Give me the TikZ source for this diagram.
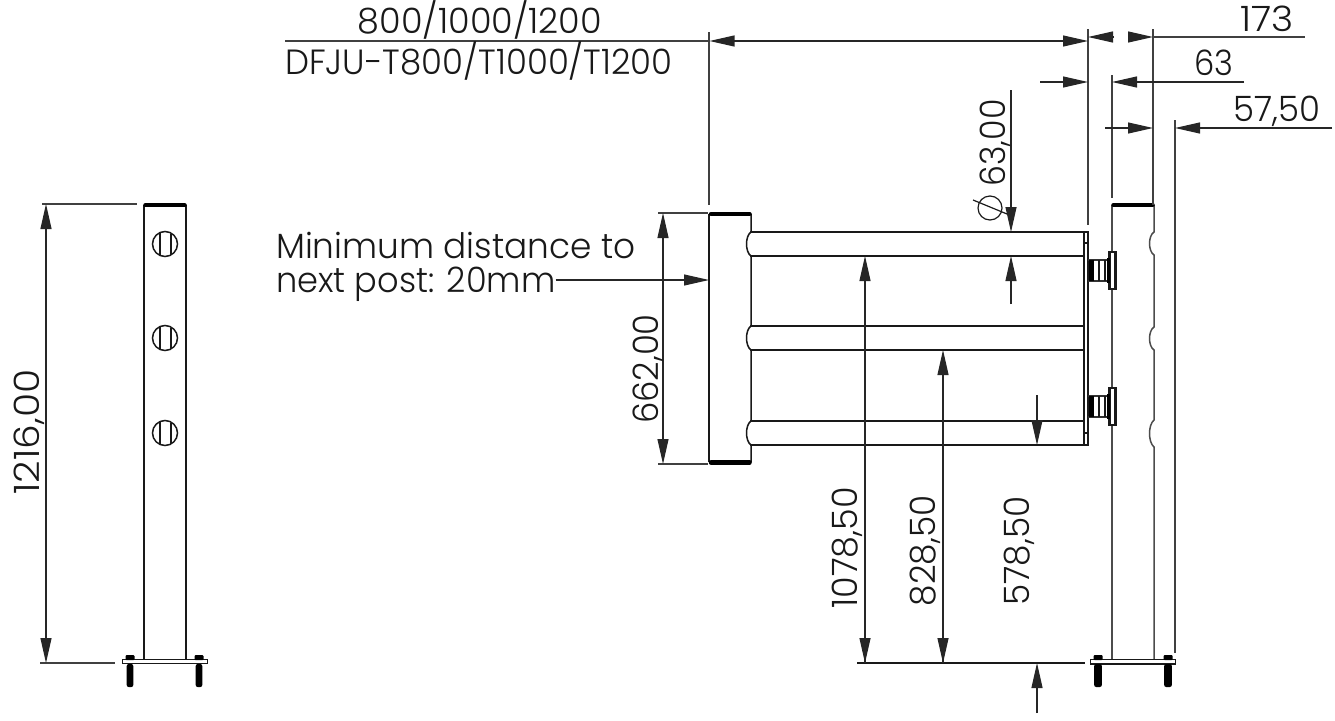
\documentclass[tikz,border=0pt]{standalone}
\usepackage{fontspec}
\setmainfont{Poppins}[UprightFont=* Light]
\usetikzlibrary{arrows.meta}
\tikzset{
  part/.style={line width=1.5pt,black!90},
  heavy/.style={line width=4.5pt,black,line cap=round},
  dim/.style={line width=1.1pt,black!85,-{Triangle[length=25pt,width=11pt]}},
  ext/.style={line width=1.1pt,black!75},
  lbl/.style={font=\fontsize{35}{38}\selectfont,inner sep=0pt,text=black!90},
  lblr/.style={lbl,rotate=90}
}
\newcommand{\sx}[2]{\scalebox{#1}[1]{#2}}
\newcommand{\bolt}[2]{%
  \fill[black,rounded corners=1pt] (#1-4.5,655) rectangle (#1+4.5,660);
  \fill[black,rounded corners=2pt] (#1-#2,664) rectangle (#1+#2,687);
}
\newcommand{\holemark}[1]{%
  \draw[part] (165,#1) circle (12.5);
  \draw[part] (160,#1-11.5) -- (160,#1+11.5);
  \draw[part] (171,#1-10.5) -- (171,#1+10.5);
}
\newcommand{\hingeunit}[2]{%
  \draw[part,fill=white,line width=2.2pt] (1109.5,#1) rectangle (1115.5,#1+37);
  \draw[part,line width=1.6pt,black!80] (1088,#2) -- (1109,#2) (1088,#2+21) -- (1109,#2+21);
  \fill[black] (1089,#2) rectangle (1094,#2+21);
  \fill[black] (1107,#2-2) rectangle (1110,#2+23);
  \draw[part] (1099,#2) -- (1099,#2+21) (1105,#2) -- (1105,#2+21);
}
\begin{document}
\begin{tikzpicture}[x=1pt,y=-1pt]
\useasboundingbox (0,0) rectangle (1335,720);
\fill[white] (0,0) rectangle (1335,720);

% left post
\draw[part] (144,205) -- (144,659) (186,205) -- (186,659);
\draw[heavy] (145.5,205) -- (184.5,205);
\holemark{244}\holemark{338}\holemark{433}
\draw[part,line width=1.8pt,fill=white] (122.5,659.5) rectangle (207.5,663.5);
\bolt{130}{3.3}\bolt{199}{3.3}
% left dimension
\draw[ext] (42,204) -- (137,204) (40,663) -- (115,663);
\draw[dim] (46,432) -- (46,204);
\draw[dim] (46,432) -- (46,663);
\node[lblr] (h1216) at (29,432) {\sx{1.12}{1216,00}};

% gate post
\draw[part] (709,214) -- (709,462);
\draw[part] (751,214) -- (751,232) .. controls (745,236) and (745,252) .. (751,256)
  -- (751,326) .. controls (745,330) and (745,346) .. (751,350)
  -- (751,421) .. controls (745,425) and (745,441) .. (751,445) -- (751,462);
\draw[heavy] (711,214) -- (749.5,214);
\draw[heavy] (711,462.5) -- (749.5,462.5);
% rails
\foreach \y in {232,256,326,350,421,445} \draw[part] (750,\y) -- (1084,\y);
\draw[part] (1084,232) rectangle (1088,445);
\draw[part] (1084,243) -- (1088,243) (1084,433) -- (1088,433);
% right post
\draw[part,black!70] (1112,205) -- (1112,659);
\draw[part,black!70] (1154,205) -- (1154,232) .. controls (1148,236) and (1148,251) .. (1154,255)
  -- (1154,327) .. controls (1148,331) and (1148,346) .. (1154,350)
  -- (1154,420) .. controls (1148,425) and (1148,442) .. (1154,447) -- (1154,659);
\draw[heavy] (1113.5,205) -- (1152.5,205);
\hingeunit{252}{260}
\hingeunit{388}{396}
\draw[part,line width=1.8pt,fill=white] (1090.5,659.5) rectangle (1175.5,664);
\bolt{1098}{3.8}\bolt{1168}{3.8}

% top dimensions
\draw[ext] (709,32) -- (709,205) (1088,29) -- (1088,225);
\draw[ext] (1153,29) -- (1153,205) (1112,75) -- (1112,198) (1175,120) -- (1175,653);
\draw[ext] (285,41) -- (710,41);
\draw[dim] (900,41) -- (709.5,41);
\draw[dim] (900,41) -- (1088,41);
\draw[dim] (1114,37) -- (1088,37);
\draw[dim] (1128,37) -- (1153,37);
\draw[ext] (1153,37) -- (1305,37);
\draw[dim] (1040,82) -- (1088,82);
\draw[dim] (1244,82) -- (1112,82);
\draw[dim] (1105,128) -- (1153,128);
\draw[dim] (1332,128) -- (1175,128);
\node[lbl,anchor=base] (t800) at (480,33) {800/1000/1200};
\node[lbl,anchor=base] (tdf) at (479,74) {\sx{0.97}{DFJU-T800/T1000/T1200}};
\node[lbl,anchor=base] (t173) at (1267,31) {\sx{1.08}{173}};
\node[lbl,anchor=base] (t63) at (1214,75) {\sx{0.92}{63}};
\node[lbl,anchor=base] (t57) at (1277,121) {\sx{0.97}{57,50}};

% phi
\draw[dim] (1011,90) -- (1011,232);
\draw[dim] (1011,304) -- (1011,256);
\node[lblr,anchor=base] (t6300) at (1005,143) {\sx{0.95}{63,00}};
\draw[line width=1.2pt,black!90] (990,208) circle (12);
\draw[line width=1.2pt,black!90] (973,200) -- (1007,214);

% 662
\draw[ext] (658,213) -- (708,213) (658,464) -- (708,464);
\draw[dim] (663,340) -- (663,213);
\draw[dim] (663,340) -- (663,464);
\node[lblr,anchor=base] (t662) at (658,369) {\sx{0.97}{662,00}};

% leader
\node[lbl,anchor=base west,align=left] (m1) at (276,258) {\sx{0.98}{Minimum distance to}};
\node[lbl,anchor=base west,align=left] (m2) at (276,292) {\sx{0.96}{next post: 20mm}};
\draw[dim] (m2.east |- 0,280) -- (709,280);

% heights
\draw[part] (857,663) -- (1085,663);
\draw[dim] (865,663) -- (865,256);
\draw[dim] (865,300) -- (865,663);
\draw[dim] (943,663) -- (943,350);
\draw[dim] (943,400) -- (943,663);
\draw[dim] (1037,395) -- (1037,445);
\draw[dim] (1037,713) -- (1037,663);
\node[lblr,anchor=base] (t1078) at (857,548) {1078,50};
\node[lblr,anchor=base] (t828) at (935,551) {\sx{0.98}{828,50}};
\node[lblr,anchor=base] (t578) at (1029,551) {\sx{0.98}{578,50}};
\end{tikzpicture}
\end{document}
